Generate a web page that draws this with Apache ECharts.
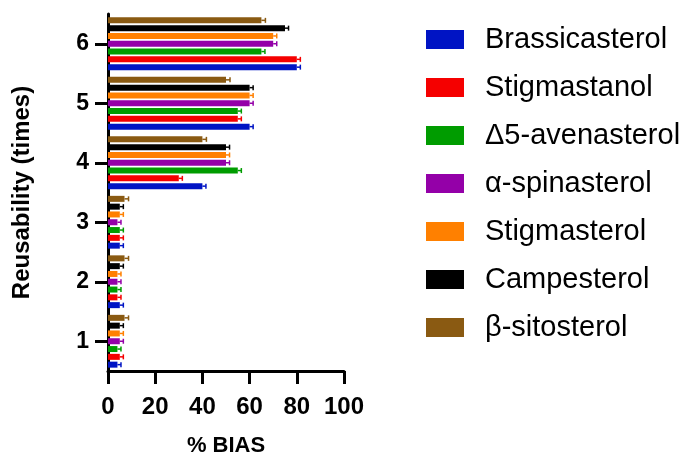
<!DOCTYPE html>
<html>
<head>
<meta charset="utf-8">
<script src="https://cdn.jsdelivr.net/npm/echarts@6/dist/echarts.min.js"></script>
<style>
  html, body { margin: 0; padding: 0; background: #fff; }
  #chart { width: 686px; height: 455px; }
</style>
</head>
<body>
<div id="chart"></div>
<script>
const categories = ['1', '2', '3', '4', '5', '6'];
const xTicks = [0, 20, 40, 60, 80, 100];

const names = ['Brassicasterol', 'Stigmastanol', 'Δ5-avenasterol', 'α-spinasterol', 'Stigmasterol', 'Campesterol', 'β-sitosterol'];
const colors = ['#0014c4', '#f50000', '#009c00', '#9400a8', '#ff8000', '#000000', '#8a5a12'];

const brassicasterol = [4, 5, 5, 40, 60, 80];
const stigmastanol = [5, 4, 5, 30, 55, 80];
const avenasterol = [4, 4, 5, 55, 55, 65];
const spinasterol = [5, 4, 4, 50, 60, 70];
const stigmasterol = [5, 4, 5, 50, 60, 70];
const campesterol = [5, 5, 5, 50, 60, 75];
const sitosterol = [7, 7, 7, 40, 50, 65];

const errBrassicasterol = [1.5, 1.5, 1.5, 1.5, 1.5, 1.5];
const errStigmastanol = [1.5, 1.5, 1.5, 1.5, 1.5, 1.5];
const errAvenasterol = [1.5, 1.5, 1.5, 1.5, 1.5, 1.5];
const errSpinasterol = [1.5, 1.5, 1.5, 1.5, 1.5, 1.5];
const errStigmasterol = [1.5, 1.5, 1.5, 1.5, 1.5, 1.5];
const errCampesterol = [1.5, 1.5, 1.5, 1.5, 1.5, 1.5];
const errSitosterol = [1.7, 1.7, 1.7, 1.7, 1.7, 1.7];

const values = [brassicasterol, stigmastanol, avenasterol, spinasterol, stigmasterol, campesterol, sitosterol];
const errors = [errBrassicasterol, errStigmastanol, errAvenasterol, errSpinasterol, errStigmasterol, errCampesterol, errSitosterol];

const FONT = '"Liberation Sans", Arial, sans-serif';
const BAR_W = 6;
const PITCH = 7.8;

// echarts puts the first bar series on top of the group, so feed them reversed
// (Brassicasterol ends up at the bottom like in the original)
const barSeries = names.map((name, k) => ({
  name: name,
  type: 'bar',
  data: values[k],
  barWidth: BAR_W,
  barGap: '30%',
  itemStyle: { color: colors[k] },
  z: 2
})).reverse();

const errSeries = names.map((name, k) => ({
  name: name + ' err',
  type: 'custom',
  data: values[k].map((v, i) => [v, i, errors[k][i]]),
  encode: { x: 0, y: 1 },
  z: 3,
  silent: true,
  renderItem(params, api) {
    const v = api.value(0), c = api.value(1), e = api.value(2);
    const off = (3 - k) * PITCH;
    const p0 = api.coord([v, c]);
    const p1 = api.coord([v + e, c]);
    const y = p0[1] + off;
    const style = { stroke: colors[k], lineWidth: 1.5 };
    return {
      type: 'group',
      children: [
        { type: 'line', shape: { x1: p0[0], y1: y, x2: p1[0], y2: y }, style: style },
        { type: 'line', shape: { x1: p1[0], y1: y - 2.5, x2: p1[0], y2: y + 2.5 }, style: style }
      ]
    };
  }
}));

const chart = echarts.init(document.getElementById('chart'));
chart.setOption({
  animation: false,
  textStyle: { fontFamily: FONT },
  grid: { left: 108, right: 342, top: 14, bottom: 84, outerBoundsMode: 'none', containLabel: false },
  legend: {
    data: names,
    orient: 'vertical',
    left: 426,
    top: 25,
    padding: 0,
    itemWidth: 38,
    itemHeight: 19,
    itemGap: 19,
    icon: 'rect',
    textStyle: { fontFamily: FONT, fontSize: 29, color: '#000', padding: [0, 0, 0, 16], lineHeight: 28 }
  },
  xAxis: {
    type: 'value',
    min: xTicks[0],
    max: xTicks[xTicks.length - 1],
    interval: 20,
    name: '% BIAS',
    nameLocation: 'middle',
    nameGap: 64,
    nameTextStyle: { fontFamily: FONT, fontSize: 22, fontWeight: 'bold', color: '#000' },
    axisLine: { show: true, lineStyle: { color: '#000', width: 3 } },
    axisTick: { show: true, length: 13, lineStyle: { color: '#000', width: 3 } },
    axisLabel: { fontFamily: FONT, fontSize: 24, fontWeight: 'bold', color: '#000', margin: 24 },
    splitLine: { show: false }
  },
  yAxis: {
    type: 'category',
    data: categories,
    name: 'Reusability (times)',
    nameLocation: 'middle',
    nameGap: 74,
    nameTextStyle: { fontFamily: FONT, fontSize: 24, fontWeight: 'bold', color: '#000' },
    axisLine: { show: true, lineStyle: { color: '#000', width: 3 } },
    axisTick: { show: true, alignWithLabel: true, length: 13, lineStyle: { color: '#000', width: 3 } },
    axisLabel: { fontFamily: FONT, fontSize: 23, fontWeight: 'bold', color: '#000', margin: 19 },
    splitLine: { show: false }
  },
  series: barSeries.concat(errSeries)
});
</script>
</body>
</html>
